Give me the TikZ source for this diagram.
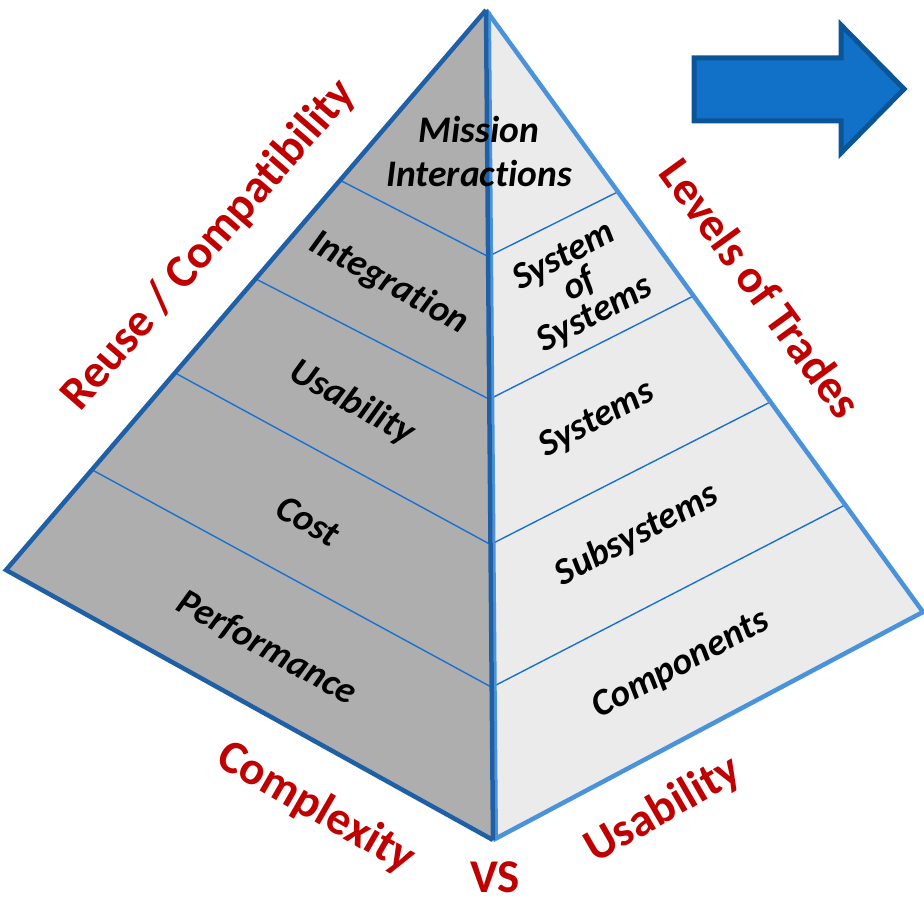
\documentclass[tikz,border=0pt]{standalone}
\usepackage{fontspec}
\setmainfont{Carlito}[Ligatures=NoCommon]
\usetikzlibrary{calc}
\definecolor{leftgray}{HTML}{AEAEAE}
\definecolor{rightgray}{HTML}{EBEBEB}
\definecolor{darkedge}{HTML}{1F5FA6}
\definecolor{lightedge}{HTML}{4A92DA}
\definecolor{innerline}{HTML}{1A70D0}
\definecolor{redlabel}{HTML}{C00000}
\definecolor{arrowfill}{HTML}{1170C8}
\definecolor{arrowedge}{HTML}{0B5597}
\tikzset{
  facelabel/.style={font=\fontsize{37.5}{44}\selectfont\bfseries\itshape, text=black, inner sep=0pt, align=center},
  redtext/.style={font=\fontsize{47}{52}\selectfont\bfseries, text=redlabel, inner sep=0pt},
  divider/.style={draw=innerline, line width=1.4pt},
}
\begin{document}
\begin{tikzpicture}[x=1pt,y=-1pt]
\useasboundingbox (0,0) rectangle (924,901);
\coordinate (A) at (486,10);
\coordinate (L) at (6,570);
\coordinate (B) at (493,840);
\coordinate (R) at (923,612);
% faces
\fill[leftgray] (A) -- (L) -- (B) -- cycle;
\fill[rightgray] (A) -- (B) -- (R) -- cycle;
% dividing points
\foreach \i/\t/\s/\c in {1/0.304/0.302/0.297, 2/0.480/0.475/0.469, 3/0.648/0.651/0.644, 4/0.821/0.822/0.816}{
  \coordinate (P\i) at ($(A)!\t!(L)$);
  \coordinate (Q\i) at ($(A)!\s!(R)$);
  \coordinate (C\i) at ($(A)!\c!(B)$);
}
\foreach \i in {1,2,3,4}{
  \draw[divider] (P\i) -- (C\i) -- (Q\i);
}
% edges
\draw[lightedge, line width=4.5pt, line join=miter] (A) -- (R) -- (B);
\draw[darkedge, line width=4.5pt, line join=miter] (A) -- (L) -- (B);
\draw[lightedge, line width=3pt] ($(A)+(3.5,2)$) -- ($(B)+(3.5,-1)$);
\draw[darkedge, line width=4.5pt] (A) -- (B);
% arrow
\draw[fill=arrowfill, draw=arrowedge, line width=5pt, line join=miter]
  (694,58) -- (841,58) -- (841,25) -- (904,89) -- (841,153) -- (841,121) -- (694,121) -- cycle;
% left face labels
\node[facelabel] (mission) at (479,151) {Mission\\Interactions};
\node[facelabel, rotate=-29] (integ) at (389,283) {Integration};
\node[facelabel, rotate=-29] (usabL) at (352,403) {Usability};
\node[facelabel, rotate=-29] (cost) at (308,521) {Cost};
\node[facelabel, rotate=-29] (perf) at (267,648) {Performance};
% right face labels
\node[facelabel, rotate=28, font=\fontsize{37.5}{33}\selectfont\bfseries\itshape] (sos) at (580,286) {System\\of\\Systems};
\node[facelabel, rotate=28] (sys) at (597,420) {Systems};
\node[facelabel, rotate=28] (subs) at (637,535) {Subsystems};
\node[facelabel, rotate=28] (comp) at (681,665) {Components};
% red labels
\node[redtext, rotate=49] (reuse) at (209,245) {Reuse / Compatibility};
\node[redtext, rotate=-54] (levels) at (761,288) {Levels of Trades};
\node[redtext, rotate=-30] (complex) at (316,808) {Complexity};
\node[redtext, rotate=30] (usab) at (663,810) {Usability};
\node[redtext] (vs) at (495,877) {VS};
\end{tikzpicture}
\end{document}
